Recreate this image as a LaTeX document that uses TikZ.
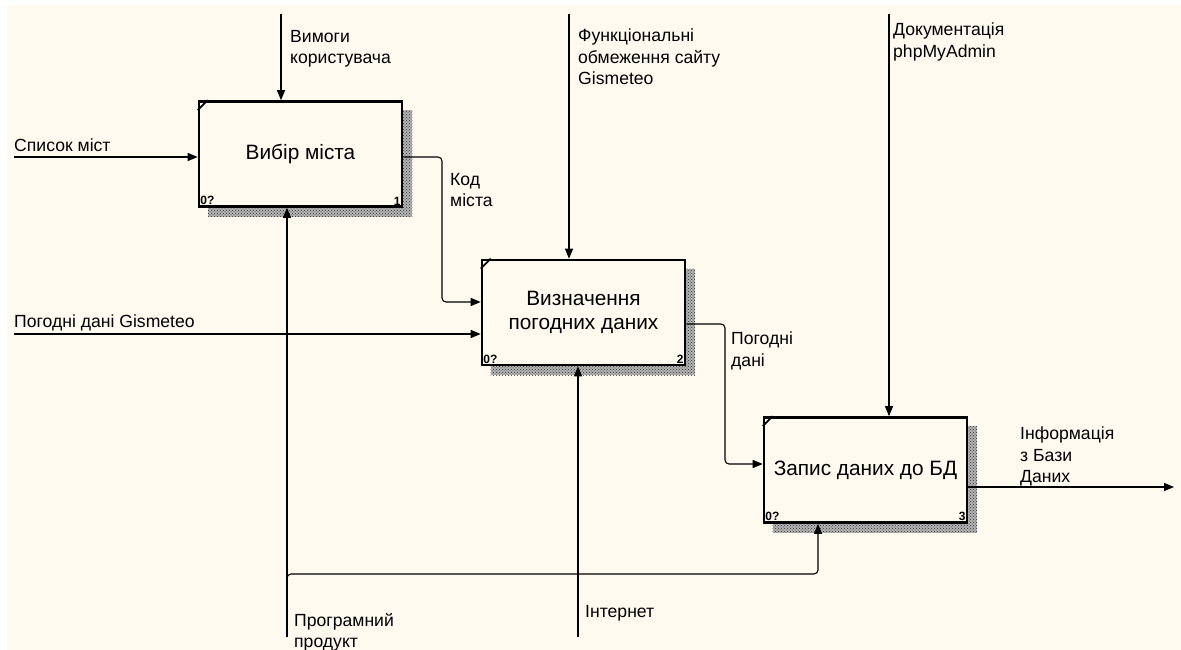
\documentclass[tikz,border=0pt]{standalone}
\usepackage{fontspec}
\setmainfont{Liberation Sans}
\usetikzlibrary{arrows.meta,patterns,backgrounds,positioning}
\definecolor{paper}{RGB}{255,250,240}

\begin{document}
\begin{tikzpicture}[x=1pt,y=1pt,yscale=-1,
    funcbox/.style={draw, line width=2.6pt, fill=paper, minimum width=203pt, minimum height=105pt, inner sep=0pt, align=center, font=\fontsize{20.8}{24.5}\selectfont},
    lbl/.style={anchor=north west, inner sep=0pt, align=left, font=\fontsize{17.6}{21.5}\selectfont},
    corner/.style={inner sep=2.5pt, font=\fontsize{12}{12}\selectfont\bfseries},
    arr/.style={line width=1.1pt, rounded corners=4pt, -{Triangle[length=10pt,width=8pt]}}]
    %uncomment if require: \path (0,0); %set diagram left start at 0, and has height of 650
    \useasboundingbox (0,0) rectangle (1181,650);

    %Shape: Rectangle [id:box1]
    \node[funcbox] (b1) at (300.5,154) {Вибір міста};
    %Shape: Rectangle [id:box2]
    \node[funcbox] (b2) at (583.5,312.5) {Визначення\\погодних даних};
    %Shape: Rectangle [id:box3]
    \node[funcbox] (b3) at (865.5,470) {Запис даних до БД};

    % Shadows and paper
    \begin{scope}[on background layer]
        \fill[white] (0,0) rectangle (1181,650);
        \fill[paper] (7,5) rectangle (1181,650);
        \foreach \b in {b1,b2,b3}{
            \fill[black!30] ([shift={(10,10)}]\b.north west) rectangle ([shift={(9,9)}]\b.south east);
            \fill[pattern=crosshatch dots, pattern color=black!80] ([shift={(10,10)}]\b.north west) rectangle ([shift={(9,9)}]\b.south east);
        }
    \end{scope}

    % Corner marks and numbers
    \foreach \b/\n in {b1/1,b2/2,b3/3}{
        \draw[line width=1.8pt] ([shift={(0,10)}]\b.north west) -- ([shift={(10,0)}]\b.north west);
        \node[corner, anchor=south west] (\b zero) at (\b.south west) {0?};
        \node[corner, anchor=south east] (\b num) at (\b.south east) {\n};
    }

    % Free ends
    \coordinate (vymIn) at (281,14);
    \coordinate (spysIn) at (14,157);
    \coordinate (gisIn) at (14,334);
    \coordinate (funIn) at (569,14);
    \coordinate (docIn) at (889,14);
    \coordinate (netIn) at (578,637);
    \coordinate (progIn) at (287,637);
    \coordinate (progBr) at (287,574);
    \coordinate (progUp) at (818,574);
    \coordinate (kodTurn) at (442,302);
    \coordinate (pdTurn) at (725,464);
    \coordinate (infEnd) at (1174,487);
    \path (b1.east) ++(0,3) coordinate (kodOut);
    \path (b2.east) ++(0,11.5) coordinate (pdOut);
    \path (b3.east) ++(0,17) coordinate (infOut);

    %Straight Lines
    \draw[arr] (vymIn) -- (vymIn |- b1.north);
    \draw[arr] (spysIn) -- (spysIn -| b1.west);
    \draw[arr] (gisIn) -- (gisIn -| b2.west);
    \draw[arr] (funIn) -- (funIn |- b2.north);
    \draw[arr] (docIn) -- (docIn |- b3.north);
    \draw[arr] (netIn) -- (netIn |- b2.south);
    \draw[arr] (progIn) -- (progIn |- b1.south);
    \draw[arr] (infOut) -- (infEnd);
    %Bent Lines
    \draw[arr] (kodOut) -| (kodTurn) -- (kodTurn -| b2.west);
    \draw[arr] (pdOut) -| (pdTurn) -- (pdTurn -| b3.west);
    \draw[arr] ([shift={(0,6)}]progBr) -- (progBr) -- (progUp) -- (progUp |- b3.south);

    % Text Node
    \node[lbl] (vymL) at (290,30) {Вимоги\\користувача};
    % Text Node
    \node[lbl] (spysL) at (14,139) {Список міст};
    % Text Node
    \node[lbl] (kodL) at (450,173) {Код\\міста};
    % Text Node
    \node[lbl] (gisL) at (14,315) {Погодні дані Gismeteo};
    % Text Node
    \node[lbl] (funL) at (578,29) {Функціональні\\обмеження сайту\\Gismeteo};
    % Text Node
    \node[lbl] (pdL) at (731,332) {Погодні\\дані};
    % Text Node
    \node[lbl] (docL) at (893,23) {Документація\\phpMyAdmin};
    % Text Node
    \node[lbl] (infL) at (1020,427) {Інформація\\з Бази\\Даних};
    % Text Node
    \node[lbl] (progL) at (294,613) {Програмний\\продукт};
    % Text Node
    \node[lbl] (netL) at (585,605) {Інтернет};
\end{tikzpicture}
\end{document}
